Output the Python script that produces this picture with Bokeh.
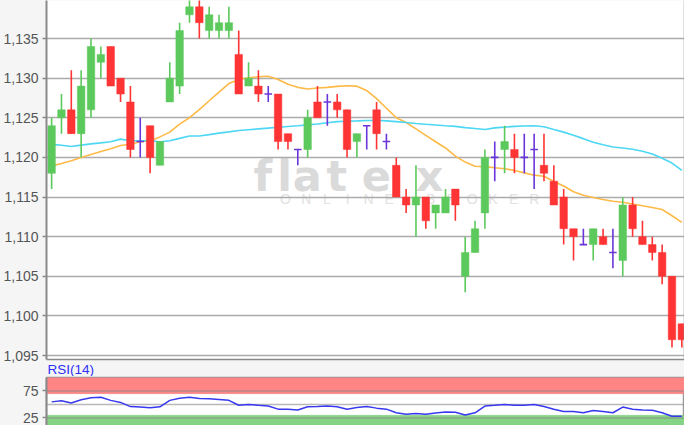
from bokeh.plotting import figure
from bokeh.models import (Range1d, FixedTicker, ColumnDataSource, Label, BoxAnnotation, Span,
                          LinearAxis)
from bokeh.layouts import column
from bokeh.embed import file_html
from bokeh.resources import INLINE

# ---------------- data ----------------
opens = [1.118, 1.125, 1.126, 1.123, 1.126, 1.132, 1.134, 1.130, 1.127, 1.122,
         1.124, 1.119, 1.127, 1.129, 1.138, 1.139, 1.136, 1.136, 1.136, 1.133,
         1.129, 1.129, 1.128, 1.128, 1.123, 1.121, 1.121, 1.127, 1.127, 1.127,
         1.126, 1.122, 1.124, 1.126, 1.122, 1.119, 1.115, 1.114, 1.115, 1.113,
         1.113, 1.116, 1.105, 1.108, 1.113, 1.120, 1.121, 1.121, 1.120, 1.121,
         1.119, 1.117, 1.115, 1.111, 1.109, 1.109, 1.110, 1.108, 1.107, 1.114,
         1.110, 1.109, 1.108, 1.105, 1.099]
closes = [1.124, 1.126, 1.123, 1.129, 1.134, 1.133, 1.129, 1.128, 1.121, 1.122,
          1.120, 1.122, 1.130, 1.136, 1.139, 1.137, 1.138, 1.137, 1.137, 1.128,
          1.130, 1.128, 1.128, 1.122, 1.122, 1.121, 1.125, 1.125, 1.127, 1.126,
          1.121, 1.123, 1.124, 1.123, 1.122, 1.115, 1.114, 1.115, 1.112, 1.114,
          1.115, 1.114, 1.108, 1.111, 1.120, 1.120, 1.122, 1.120, 1.120, 1.121,
          1.118, 1.114, 1.111, 1.110, 1.109, 1.111, 1.109, 1.108, 1.114, 1.111,
          1.109, 1.108, 1.105, 1.097, 1.097]
highs = [1.125, 1.128, 1.131, 1.131, 1.135, 1.134, 1.134, 1.130, 1.129, 1.125,
         1.124, 1.122, 1.132, 1.137, 1.140, 1.140, 1.139, 1.138, 1.139, 1.136,
         1.132, 1.131, 1.129, 1.128, 1.123, 1.121, 1.126, 1.129, 1.128, 1.128,
         1.126, 1.123, 1.124, 1.127, 1.123, 1.120, 1.116, 1.119, 1.115, 1.114,
         1.116, 1.116, 1.110, 1.112, 1.121, 1.122, 1.124, 1.123, 1.123, 1.123,
         1.123, 1.119, 1.116, 1.111, 1.111, 1.111, 1.111, 1.111, 1.115, 1.115,
         1.112, 1.110, 1.109, 1.105, 1.099]
lows = [1.116, 1.123, 1.123, 1.120, 1.125, 1.130, 1.129, 1.127, 1.120, 1.120,
        1.118, 1.119, 1.127, 1.128, 1.137, 1.135, 1.135, 1.135, 1.135, 1.128,
        1.129, 1.127, 1.127, 1.121, 1.121, 1.119, 1.120, 1.125, 1.124, 1.125,
        1.120, 1.120, 1.121, 1.121, 1.121, 1.115, 1.113, 1.110, 1.111, 1.111,
        1.113, 1.112, 1.103, 1.108, 1.111, 1.117, 1.118, 1.118, 1.118, 1.116,
        1.117, 1.114, 1.109, 1.107, 1.109, 1.107, 1.109, 1.106, 1.105, 1.110,
        1.109, 1.107, 1.104, 1.096, 1.096]

ma_fast = [1.11893, 1.11923, 1.11957, 1.11998, 1.12038, 1.12074, 1.12110, 1.12150, 1.12167, 1.12198,
           1.12211, 1.12259, 1.12319, 1.12421, 1.12501, 1.12602, 1.12715, 1.12823, 1.12932, 1.12984,
           1.13005, 1.13017, 1.13025, 1.12984, 1.12924, 1.12884, 1.12863, 1.12875, 1.12884, 1.12896,
           1.12904, 1.12899, 1.12844, 1.12742, 1.12621, 1.12501, 1.12440, 1.12360, 1.12279, 1.12198,
           1.12119, 1.12017, 1.11941, 1.11889, 1.11884, 1.11869, 1.11857, 1.11836, 1.11805, 1.11776,
           1.11763, 1.11696, 1.11639, 1.11567, 1.11522, 1.11494, 1.11470, 1.11446, 1.11434, 1.11413,
           1.11391, 1.11367, 1.11343, 1.11264, 1.11180]
ma_slow = [1.12165, 1.12153, 1.12138, 1.12155, 1.12171, 1.12183, 1.12198, 1.12231, 1.12211, 1.12211,
           1.12211, 1.12198, 1.12211, 1.12240, 1.12271, 1.12271, 1.12288, 1.12307, 1.12322, 1.12340,
           1.12350, 1.12360, 1.12370, 1.12380, 1.12391, 1.12400, 1.12410, 1.12421, 1.12437, 1.12452,
           1.12457, 1.12461, 1.12466, 1.12469, 1.12461, 1.12452, 1.12440, 1.12428, 1.12418, 1.12409,
           1.12400, 1.12392, 1.12376, 1.12364, 1.12352, 1.12373, 1.12382, 1.12392, 1.12397, 1.12400,
           1.12386, 1.12352, 1.12319, 1.12279, 1.12237, 1.12191, 1.12159, 1.12131, 1.12119, 1.12102,
           1.12078, 1.12044, 1.11989, 1.11929, 1.11836]
rsi = [54.8, 56.7, 52.8, 58.6, 62.4, 63.4, 57.6, 53.8, 46.1, 45.1,
       43.7, 45.6, 57.6, 61.5, 63.4, 61.0, 60.5, 59.1, 57.6, 48.5,
       50.0, 48.5, 47.1, 41.3, 41.3, 39.9, 45.6, 46.1, 47.1, 45.6,
       41.3, 44.2, 46.1, 43.2, 41.3, 34.6, 31.7, 33.1, 31.7, 34.1,
       36.0, 35.5, 30.3, 34.6, 47.1, 48.5, 50.0, 48.5, 48.5, 50.0,
       46.1, 41.3, 36.9, 36.9, 34.6, 38.9, 36.9, 34.6, 45.1, 41.3,
       39.9, 39.4, 34.6, 28.3, 28.3]

price_ticks = [1.095, 1.100, 1.105, 1.110, 1.115, 1.120, 1.125, 1.130, 1.135]
price_labels = ["1,095", "1,100", "1,105", "1,110", "1,115", "1,120", "1,125", "1,130", "1,135"]
rsi_ticks = [25, 75]
rsi_grid = [25, 50, 75]
rsi_overbought = 70
rsi_oversold = 30
rsi_title = "RSI(14)"

# ---------------- styling ----------------
GREEN = "#5cc95c"
RED = "#ff3434"
DOJI = "#6a35d8"
BG = "#f5f5f5"
GRID = "#ababab"
AXIS = "#8a8a8a"
FONT = "Liberation Sans"
BODY_W = 0.76
Y0, Y1 = 1.0945, 1.1398

idx = list(range(len(opens)))


def subset(cond):
    d = dict(x=[], top=[], bottom=[], high=[], low=[], o=[], x0=[], x1=[])
    for i in idx:
        if cond(opens[i], closes[i]):
            d["x"].append(i)
            d["top"].append(max(opens[i], closes[i]))
            d["bottom"].append(min(opens[i], closes[i]))
            d["high"].append(highs[i])
            d["low"].append(lows[i])
            d["o"].append(opens[i])
            d["x0"].append(i - BODY_W / 2)
            d["x1"].append(i + BODY_W / 2)
    return ColumnDataSource(d)


src_up = subset(lambda o, c: c > o)
src_dn = subset(lambda o, c: c < o)
src_dj = subset(lambda o, c: c == o)

x_range = Range1d(-0.52, 64.27)


def style_axis(a, size="14px"):
    a.major_label_text_font = FONT
    a.major_label_text_font_size = size
    a.major_label_text_color = "#555555"
    a.major_label_standoff = 4
    a.axis_line_color = AXIS
    a.axis_line_width = 2
    a.major_tick_line_color = AXIS
    a.major_tick_line_width = 1.5
    a.major_tick_out = 4
    a.major_tick_in = 0
    a.minor_tick_line_color = None


def plain_axis():
    a = LinearAxis(ticker=FixedTicker(ticks=[]))
    a.axis_line_color = AXIS
    a.axis_line_width = 1.5
    a.major_tick_line_color = None
    a.minor_tick_line_color = None
    a.major_tick_out = 0
    a.major_tick_in = 0
    a.major_label_standoff = 0
    return a


# ---------------- main chart ----------------
p = figure(width=684, height=376, x_range=x_range, y_range=Range1d(Y0, Y1),
           x_axis_type=None, output_backend="svg", toolbar_location=None,
           min_border_left=44, min_border_right=0, min_border_top=0, min_border_bottom=0,
           background_fill_color="white", border_fill_color=BG, title_location="below")
p.outline_line_color = None
p.add_layout(plain_axis(), "right")
p.add_layout(plain_axis(), "below")

# RSI caption: title placed below the price frame, above the RSI panel
p.title.text = rsi_title
p.title.text_font = FONT
p.title.text_font_size = "13.5px"
p.title.text_font_style = "normal"
p.title.text_color = "#2f2ff5"
p.title.align = "left"
p.title.offset = 1
p.title.standoff = 0

ax = p.yaxis[0]
ax.ticker = FixedTicker(ticks=price_ticks)
ax.major_label_overrides = {t: l for t, l in zip(price_ticks, price_labels)}
style_axis(ax)
p.ygrid.grid_line_color = GRID
p.ygrid.grid_line_width = 1.5

# watermark
wm_letters = ["f", "l", "a", "t", "e", "x"]
wm_px = [271, 293, 316, 346, 386, 440]
for ch, px in zip(wm_letters, wm_px):
    p.add_layout(Label(x=(px - 57.2) / 9.97, y=1.1177, text=ch, text_align="center",
                       text_baseline="alphabetic", text_font="DejaVu Sans", text_font_style="bold",
                       text_font_size="43px", text_color="#dadada", level="image"))
for k, ch in enumerate("ONLINE BROKER"):
    if ch == " ":
        continue
    p.add_layout(Label(x=(294 + 21 * k - 57.2) / 9.97, y=1.11476, text=ch, text_align="center",
                       text_baseline="middle", text_font=FONT, text_font_size="14px",
                       text_color="#e2e2e2", level="image"))

# moving averages
p.line(idx, ma_fast, line_color="#fdba48", line_width=1.6)
p.line(idx, ma_slow, line_color="#4ed7f4", line_width=1.6)

# candles
for src, col in ((src_up, GREEN), (src_dn, RED)):
    p.segment(x0="x", y0="low", x1="x", y1="high", source=src, line_color=col, line_width=1.6)
    p.vbar(x="x", width=BODY_W, top="top", bottom="bottom", source=src,
           fill_color=col, line_color=col, line_width=0.5)
p.segment(x0="x", y0="low", x1="x", y1="high", source=src_dj, line_color=DOJI, line_width=1.6)
p.segment(x0="x0", y0="o", x1="x1", y1="o", source=src_dj, line_color=DOJI, line_width=1.6)

# ---------------- RSI panel ----------------
r = figure(width=684, height=49, x_range=x_range, y_range=Range1d(11, 100),
           x_axis_type=None, output_backend="svg", toolbar_location=None,
           min_border_left=44, min_border_right=0, min_border_top=1, min_border_bottom=0,
           background_fill_color="white", border_fill_color=BG)
r.outline_line_color = "#9a9a9a"
r.outline_line_width = 1.5

rax = r.yaxis[0]
rax.ticker = FixedTicker(ticks=rsi_ticks)
style_axis(rax)
r.ygrid.grid_line_color = None

r.add_layout(BoxAnnotation(bottom=rsi_overbought, fill_color="#ff8585", fill_alpha=1,
                           line_color="#e86a6a", line_width=1, level="underlay"))
r.add_layout(BoxAnnotation(top=rsi_oversold, fill_color="#85d385", fill_alpha=1,
                           line_color="#6cc06c", line_width=1, level="underlay"))
for g in rsi_grid:
    r.add_layout(Span(location=g, dimension="width", line_color="#888888", line_alpha=0.6,
                      line_width=1.5, level="underlay"))

r.line(idx, rsi, line_color="#3838ee", line_width=1.5)

layout = column(p, r, spacing=0)
layout.styles = {"background-color": BG}

open("out.html", "w").write(file_html(layout, INLINE))
